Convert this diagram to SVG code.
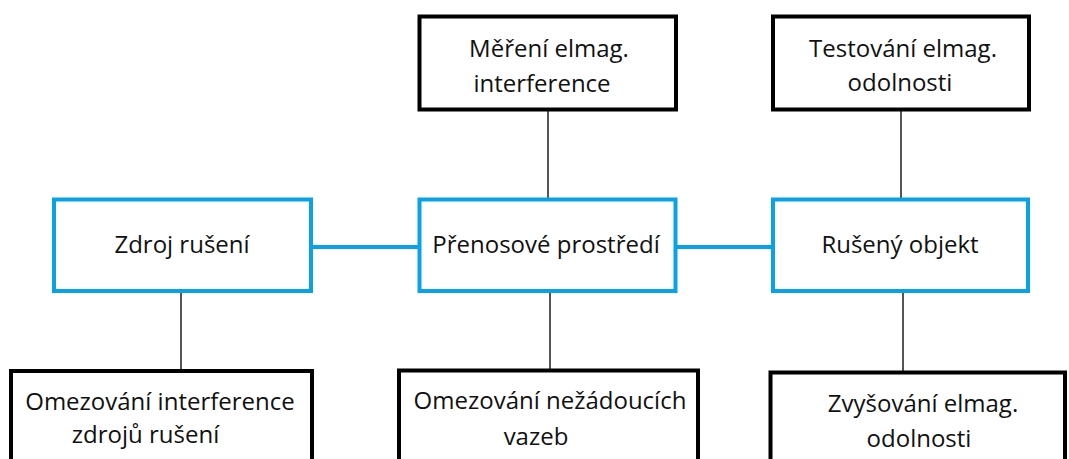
<svg xmlns="http://www.w3.org/2000/svg" width="1069" height="459" viewBox="0 0 1069 459">
<style>
.blue{fill:#fff;stroke:#0AA2E6;stroke-width:4}
.black{fill:#fff;stroke:#000;stroke-width:4}
.t{font-family:"Open Sans","Liberation Sans",sans-serif;font-size:24px;fill:#111;text-anchor:middle}
.thin{stroke:#555;stroke-width:2;fill:none}
.bl{stroke:#0AA2E6;stroke-width:4;fill:none}
</style>
<rect width="1069" height="459" fill="#fff"/>
<g id="connectors">
<line class="bl" x1="311" y1="247" x2="419.5" y2="247"/>
<line class="bl" x1="675.5" y1="247" x2="773" y2="247"/>
<line class="thin" x1="548" y1="109.5" x2="548" y2="199.5"/>
<line class="thin" x1="901" y1="109.5" x2="901" y2="199.5"/>
<line class="thin" x1="181" y1="291" x2="181" y2="371"/>
<line class="thin" x1="550" y1="291" x2="550" y2="370.5"/>
<line class="thin" x1="903" y1="291" x2="903" y2="372.5"/>
</g>
<g id="zdroj">
<rect class="blue" x="54" y="199.5" width="257" height="91.5"/>
<text class="t" x="182" y="253">Zdroj rušení</text>
</g>
<g id="prenos">
<rect class="blue" x="419.5" y="199.5" width="256" height="91.5"/>
<text class="t" x="546" y="253">Přenosové prostředí</text>
</g>
<g id="ruseny">
<rect class="blue" x="773" y="199.5" width="255" height="91.5"/>
<text class="t" x="900" y="253">Rušený objekt</text>
</g>
<g id="mereni">
<rect class="black" x="419.5" y="16.5" width="256.5" height="93"/>
<text class="t" x="549" y="57">Měření elmag.</text>
<text class="t" x="542" y="92">interference</text>
</g>
<g id="testovani">
<rect class="black" x="773" y="16.5" width="256" height="93"/>
<text class="t" x="903" y="57">Testování elmag.</text>
<text class="t" x="900" y="91">odolnosti</text>
</g>
<g id="omezovani-interference">
<rect class="black" x="11" y="371" width="301" height="110"/>
<text class="t" x="160" y="410">Omezování interference</text>
<text class="t" x="145.5" y="443">zdrojů rušení</text>
</g>
<g id="omezovani-vazeb">
<rect class="black" x="399" y="370.5" width="299" height="110"/>
<text class="t" x="550" y="409">Omezování nežádoucích</text>
<text class="t" x="536" y="445">vazeb</text>
</g>
<g id="zvysovani">
<rect class="black" x="770.5" y="372.5" width="294.5" height="110"/>
<text class="t" x="923" y="412">Zvyšování elmag.</text>
<text class="t" x="919" y="447">odolnosti</text>
</g>
</svg>
